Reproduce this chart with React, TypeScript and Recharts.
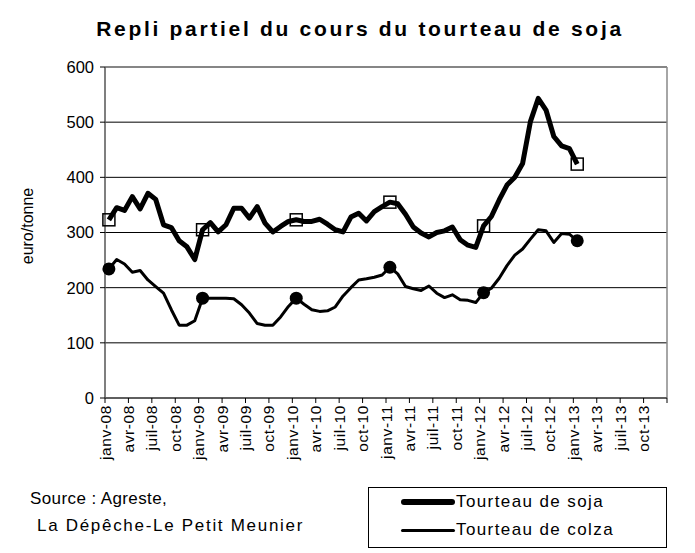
import React from 'react';
import { LineChart, Line, XAxis, YAxis, CartesianGrid, ReferenceLine, Legend } from 'recharts';

// mois de janv-08 à janv-13 (61 points mensuels)
const monthNames = ['janv', 'févr', 'mars', 'avr', 'mai', 'juin', 'juil', 'août', 'sept', 'oct', 'nov', 'déc'];
const years = ['08', '09', '10', '11', '12', '13'];

// euro/tonne
const soja = [
  323, 345, 340, 365, 343, 371, 360, 314, 309, 285, 274, 251,
  305, 318, 301, 314, 344, 344, 326, 347, 317, 301, 311, 320,
  323, 320, 320, 324, 315, 305, 301, 328, 335, 321, 338, 347,
  355, 352, 333, 310, 299, 292, 300, 303, 310, 287, 277, 273,
  312, 329, 359, 386, 400, 425, 501, 543, 522, 474, 457, 452,
  424,
];
const colza = [
  234, 251, 243, 228, 231, 214, 202, 190, 160, 132, 132, 140,
  181, 181, 181, 181, 180, 169, 154, 135, 132, 132, 147, 166,
  181, 170, 160, 157, 158, 165, 185, 200, 214, 216, 219, 223,
  237, 225, 202, 198, 195, 203, 190, 182, 187, 178, 177, 173,
  191, 199, 217, 240, 259, 270, 288, 305, 303, 282, 298, 297,
  285,
];

const tickLabels = [
  'janv-08', 'avr-08', 'juil-08', 'oct-08',
  'janv-09', 'avr-09', 'juil-09', 'oct-09',
  'janv-10', 'avr-10', 'juil-10', 'oct-10',
  'janv-11', 'avr-11', 'juil-11', 'oct-11',
  'janv-12', 'avr-12', 'juil-12', 'oct-12',
  'janv-13', 'avr-13', 'juil-13', 'oct-13',
];
const yTicks = [0, 100, 200, 300, 400, 500, 600];

const FONT = '"Liberation Sans", Arial, sans-serif';

const data = soja.map((v, i) => ({
  x: i + 0.5, // point au milieu du mois
  month: `${monthNames[i % 12]}-${years[Math.floor(i / 12)]}`,
  soja: v,
  colza: colza[i],
}));

const xTicks = [...tickLabels.map((_, i) => i * 3), tickLabels.length * 3];

const XTick = (props: any) => {
  const { x, y, payload } = props;
  const label = tickLabels[payload.value / 3] ?? '';
  return (
    <text
      x={x}
      y={y}
      transform={`rotate(-90, ${x}, ${y})`}
      textAnchor="end"
      dominantBaseline="central"
      fontSize={15.5}
      fontFamily={FONT}
      fill="#000"
      letterSpacing={0.6}
    >
      {label}
    </text>
  );
};

const squareDot = (props: any) => {
  const { cx, cy, index } = props;
  if (index % 12 !== 0) return <g key={`s-${index}`} />;
  return <rect key={`s-${index}`} x={cx - 6} y={cy - 6} width={12} height={12} fill="none" stroke="#000" strokeWidth={1.5} />;
};

const circleDot = (props: any) => {
  const { cx, cy, index } = props;
  if (index % 12 !== 0) return <g key={`c-${index}`} />;
  return <circle key={`c-${index}`} cx={cx} cy={cy} r={6.5} fill="#000" stroke="none" />;
};

const legendOrder = ['soja', 'colza'];
const legendWidths: Record<string, number> = { soja: 5.5, colza: 3 };

const renderLegend = (props: any) => {
  const items = [...(props.payload || [])].sort(
    (a: any, b: any) => legendOrder.indexOf(a.dataKey) - legendOrder.indexOf(b.dataKey)
  );
  return (
    <div style={{ position: 'relative', border: '1px solid #000', width: 297, height: 59, fontFamily: FONT, fontSize: 17 }}>
      {items.map((entry: any, i: number) => (
        <div key={entry.value} style={{ position: 'absolute', left: 32, top: 3 + i * 28, height: 22, display: 'flex', alignItems: 'center' }}>
          <div style={{ width: 54, height: legendWidths[entry.dataKey] ?? 3, background: '#000', borderRadius: 3 }} />
          <span style={{ marginLeft: 1, letterSpacing: 1.4 }}>{entry.value}</span>
        </div>
      ))}
    </div>
  );
};

export default function App() {
  return (
    <div style={{ position: 'absolute', left: 0, top: 0, width: 695, height: 553, background: '#fff', fontFamily: FONT }}>
      <div style={{ position: 'absolute', left: 0, top: 17, width: 720, textAlign: 'center', fontSize: 21, fontWeight: 'bold', letterSpacing: 2.7 }}>
        Repli partiel du cours du tourteau de soja
      </div>
      <div style={{ position: 'absolute', left: 18, top: 176, width: 20, height: 100 }}>
        <div style={{ position: 'absolute', left: -40, top: 40, width: 100, textAlign: 'center', transform: 'rotate(-90deg)', fontSize: 16, lineHeight: '20px' }}>
          euro/tonne
        </div>
      </div>
      <div style={{ position: 'absolute', left: 30, top: 489, fontSize: 17, lineHeight: '20px', letterSpacing: 0.4 }}>Source : Agreste,</div>
      <div style={{ position: 'absolute', left: 37, top: 516, fontSize: 17, lineHeight: '20px', letterSpacing: 1.7 }}>La Dépêche-Le Petit Meunier</div>
      <LineChart width={695} height={553} data={data} margin={{ top: 67, right: 28, left: 0, bottom: 85 }}>
        <CartesianGrid horizontal vertical={false} stroke="#000" strokeWidth={1} />
        <XAxis
          dataKey="x"
          type="number"
          domain={[0, 72]}
          ticks={xTicks}
          interval={0}
          height={70}
          tick={<XTick />}
          tickSize={5}
          tickMargin={2}
          axisLine={{ stroke: '#555', strokeWidth: 1.5 }}
          tickLine={{ stroke: '#000' }}
        />
        <YAxis
          domain={[0, 600]}
          ticks={yTicks}
          width={105}
          tickSize={5}
          tickMargin={6}
          axisLine={{ stroke: '#555', strokeWidth: 1.5 }}
          tickLine={{ stroke: '#000' }}
          tick={{ fill: '#000', fontSize: 16.5, fontFamily: FONT }}
        />
        <ReferenceLine y={600} stroke="#888" strokeWidth={1.5} />
        <ReferenceLine x={72} stroke="#888" strokeWidth={1.5} />
        <Line
          dataKey="soja"
          name="Tourteau de soja"
          stroke="#000"
          strokeWidth={5}
          strokeLinejoin="round"
          dot={squareDot}
          activeDot={false}
          isAnimationActive={false}
        />
        <Line
          dataKey="colza"
          name="Tourteau de colza"
          stroke="#000"
          strokeWidth={3}
          strokeLinejoin="round"
          dot={circleDot}
          activeDot={false}
          isAnimationActive={false}
        />
        <Legend
          content={renderLegend}
          verticalAlign="middle"
          wrapperStyle={{ position: 'absolute', left: 368, top: 487, width: 299, height: 61, bottom: 'auto', right: 'auto' }}
        />
      </LineChart>
    </div>
  );
}
